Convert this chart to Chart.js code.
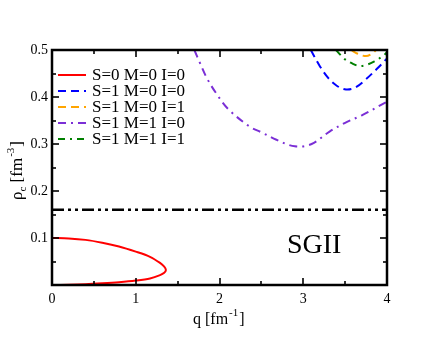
<!DOCTYPE html>
<html>
<head>
<meta charset="utf-8">
<script src="https://cdn.jsdelivr.net/npm/chart.js@4/dist/chart.umd.min.js"></script>
<style>
  html, body { margin: 0; padding: 0; background: #fff; }
  #wrap { width: 436px; height: 337px; }
</style>
</head>
<body>
<div id="wrap"><canvas id="grafica"></canvas></div>
<script>
// datos (q en fm^-1, rho en fm^-3)
const redQ   = [0, 0.2, 0.4, 0.6, 0.8, 1.0, 1.17, 1.29, 1.34, 1.36, 1.34, 1.29, 1.17, 1.0, 0.8, 0.6, 0.4, 0.2, 0];
const redRho = [0.100, 0.099, 0.096, 0.090, 0.082, 0.071, 0.060, 0.047, 0.039, 0.032, 0.026, 0.021, 0.014, 0.0095, 0.006, 0.0035, 0.0015, 0.0004, 0];

const blueQ   = [3.09, 3.2, 3.3, 3.4, 3.51, 3.62, 3.75, 3.88, 4.0];
const blueRho = [0.5, 0.465, 0.44, 0.424, 0.416, 0.42, 0.438, 0.46, 0.482];

const orangeQ   = [3.57, 3.65, 3.75, 3.82, 3.87];
const orangeRho = [0.5, 0.492, 0.487, 0.492, 0.5];

const purpleQ   = [1.70, 1.76, 1.85, 1.96, 2.1, 2.36, 2.5, 2.68, 2.9, 3.1, 3.31, 3.5, 3.71, 4.0];
const purpleRho = [0.5, 0.475, 0.44, 0.408, 0.375, 0.337, 0.325, 0.309, 0.295, 0.30, 0.326, 0.345, 0.362, 0.39];

const greenQ   = [3.39, 3.5, 3.6, 3.67, 3.75, 3.85, 3.95, 4.0];
const greenRho = [0.5, 0.48, 0.47, 0.466, 0.468, 0.476, 0.487, 0.495];

const satQ   = [0, 4];
const satRho = [0.16, 0.16];

const etiquetas = ['S=0 M=0 I=0', 'S=1 M=0 I=0', 'S=1 M=0 I=1', 'S=1 M=1 I=0', 'S=1 M=1 I=1'];
const xTicks = [0, 1, 2, 3, 4];
const yTicks = [0.1, 0.2, 0.3, 0.4, 0.5];
const xMenores = [0, 0.5, 1, 1.5, 2, 2.5, 3, 3.5, 4];
const yMenores = [0, 0.05, 0.1, 0.15, 0.2, 0.25, 0.3, 0.35, 0.4, 0.45, 0.5];

function puntos(qs, rs) {
    return qs.map((q, i) => ({ x: q, y: rs[i] }));
}

const serif = '"Liberation Serif", "Times New Roman", serif';

// marco y marcas hacia dentro en los cuatro lados
const marcas = {
    id: 'marcas',
    afterDraw(chart) {
        const ctx = chart.ctx, a = chart.chartArea;
        const xs = chart.scales.x, ys = chart.scales.y;
        ctx.save();
        ctx.setLineDash([]);
        ctx.strokeStyle = '#000';
        ctx.lineWidth = 1.6;
        const xp = xMenores.map(v => Math.round(xs.getPixelForValue(v)));
        const yp = yMenores.map(v => Math.round(ys.getPixelForValue(v)));
        xp.forEach((px, i) => {
            const len = i % 2 === 0 ? 7 : 4;
            ctx.beginPath(); ctx.moveTo(px, a.bottom); ctx.lineTo(px, a.bottom - len); ctx.stroke();
            ctx.beginPath(); ctx.moveTo(px, a.top); ctx.lineTo(px, a.top + len); ctx.stroke();
        });
        yp.forEach((py, i) => {
            const len = i % 2 === 0 ? 7 : 4;
            ctx.beginPath(); ctx.moveTo(a.left, py); ctx.lineTo(a.left + len, py); ctx.stroke();
            ctx.beginPath(); ctx.moveTo(a.right, py); ctx.lineTo(a.right - len, py); ctx.stroke();
        });
        ctx.lineWidth = 2.5;
        ctx.strokeRect(a.left, a.top, a.right - a.left, a.bottom - a.top);
        ctx.restore();
    }
};

// leyenda y textos
const textos = {
    id: 'textos',
    afterDraw(chart) {
        const ctx = chart.ctx;
        ctx.save();
        ctx.font = '17px ' + serif;
        ctx.textBaseline = 'middle';
        ctx.fillStyle = '#000';
        for (let i = 0; i < etiquetas.length; i++) {
            const ds = chart.data.datasets[i];
            const y = 75 + i * 16;
            ctx.strokeStyle = ds.borderColor;
            ctx.lineWidth = 2;
            ctx.setLineDash(ds.borderDash || []);
            ctx.beginPath();
            ctx.moveTo(58, y); ctx.lineTo(86, y);
            ctx.stroke();
            ctx.setLineDash([]);
            ctx.fillText(ds.label, 92, y + 1);
        }

        ctx.font = '28px ' + serif;
        ctx.textBaseline = 'alphabetic';
        ctx.fillText('SGII', 287, 253);

        // titulo eje x
        ctx.font = '16px ' + serif;
        let x0 = 193;
        ctx.fillText('q [fm', x0, 324);
        x0 += ctx.measureText('q [fm').width;
        ctx.font = '11px ' + serif;
        ctx.fillText('-1', x0 + 1, 316);
        x0 += ctx.measureText('-1').width + 2;
        ctx.font = '16px ' + serif;
        ctx.fillText(']', x0, 324);

        // titulo eje y
        ctx.translate(22, 200);
        ctx.rotate(-Math.PI / 2);
        let t = 0;
        ctx.font = '17px ' + serif;
        ctx.fillText('\u03c1', t, 0);
        t += ctx.measureText('\u03c1').width;
        ctx.font = '11px ' + serif;
        ctx.fillText('c', t, 4);
        t += ctx.measureText('c').width;
        ctx.font = '17px ' + serif;
        ctx.fillText(' [fm', t, 0);
        t += ctx.measureText(' [fm').width;
        ctx.font = '11px ' + serif;
        ctx.fillText('-3', t + 1, -8);
        t += ctx.measureText('-3').width + 2;
        ctx.font = '17px ' + serif;
        ctx.fillText(']', t, 0);
        ctx.restore();
    }
};

document.addEventListener('DOMContentLoaded', () => {
    const ctx = document.getElementById('grafica').getContext('2d');
    const linea = { showLine: true, pointRadius: 0, borderWidth: 2, fill: false, tension: 0.35 };

    new Chart(ctx, {
        type: 'scatter',
        data: {
            datasets: [
                Object.assign({}, linea, { label: etiquetas[0], data: puntos(redQ, redRho), borderColor: '#ff0000', tension: 0.3 }),
                Object.assign({}, linea, { label: etiquetas[1], data: puntos(blueQ, blueRho), borderColor: '#0000ff', borderDash: [8, 5] }),
                Object.assign({}, linea, { label: etiquetas[2], data: puntos(orangeQ, orangeRho), borderColor: '#ffa500', borderDash: [8, 5] }),
                Object.assign({}, linea, { label: etiquetas[3], data: puntos(purpleQ, purpleRho), borderColor: '#7b2fd6', borderDash: [8, 5, 2, 5] }),
                Object.assign({}, linea, { label: etiquetas[4], data: puntos(greenQ, greenRho), borderColor: '#008000', borderDash: [7, 5, 2, 5] }),
                Object.assign({}, linea, { label: 'saturacion', data: puntos(satQ, satRho), borderColor: '#000', borderWidth: 2.5, borderDash: [12, 4, 3, 4, 3, 4], tension: 0 })
            ]
        },
        options: {
            responsive: true,
            maintainAspectRatio: false,
            animation: false,
            layout: { padding: { left: 0, right: 49, top: 50, bottom: 0 } },
            plugins: { legend: { display: false }, tooltip: { enabled: false } },
            scales: {
                x: {
                    type: 'linear', min: 0, max: 4,
                    grid: { display: false, drawTicks: false },
                    border: { display: false },
                    afterBuildTicks: s => { s.ticks = xTicks.map(v => ({ value: v })); },
                    afterFit: s => { s.height = 52; },
                    ticks: { color: '#000', padding: 6, font: { family: serif, size: 14 }, callback: v => String(v) }
                },
                y: {
                    type: 'linear', min: 0, max: 0.5,
                    grid: { display: false, drawTicks: false },
                    border: { display: false },
                    afterBuildTicks: s => { s.ticks = yTicks.map(v => ({ value: v })); },
                    afterFit: s => { s.width = 52; },
                    ticks: { color: '#000', padding: 4, font: { family: serif, size: 14 }, callback: v => v.toFixed(1) }
                }
            }
        },
        plugins: [marcas, textos]
    });
});
</script>
</body>
</html>
